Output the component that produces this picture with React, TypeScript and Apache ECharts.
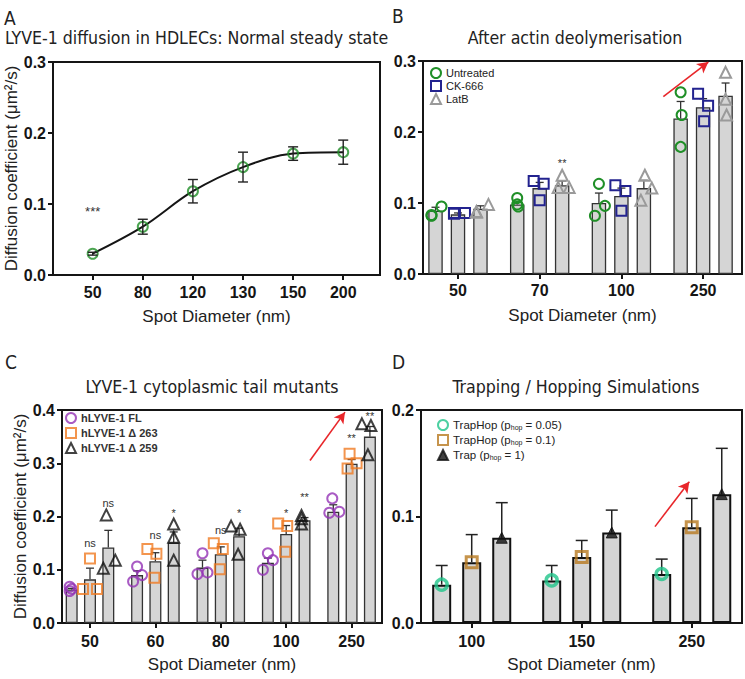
import React, { useEffect, useRef } from 'react';
import * as echarts from 'echarts';

// ---------------- DATA ----------------
// Panel A
const catsA = ['50', '80', '120', '130', '150', '200'];
const meanA = [0.030, 0.068, 0.118, 0.152, 0.171, 0.173];
const errA = [0.002, 0.0105, 0.0165, 0.021, 0.0095, 0.017];
const sigA = [{ g: 0, s: 1, y: 0.089, text: '***' }];

// Panel B
const catsB = ['50', '70', '100', '250'];
const namesB = ['Untreated', 'CK-666', 'LatB'];
const barsB = [
  [0.089, 0.098, 0.100, 0.219],
  [0.084, 0.121, 0.110, 0.235],
  [0.092, 0.125, 0.121, 0.251],
];
const errB = [
  [0.005, 0.003, 0.014, 0.024],
  [0.002, 0.008, 0.011, 0.012],
  [0.004, 0.006, 0.011, 0.018],
];
const ptsB = [
  [[0.082, 0.095, 0.083], [0.107, 0.098, 0.095], [0.127, 0.096, 0.082], [0.256, 0.224, 0.179]],
  [[0.086, 0.086, 0.085], [0.131, 0.127, 0.104], [0.125, 0.117, 0.089], [0.254, 0.237, 0.215]],
  [[0.087, 0.098, 0.088], [0.139, 0.122, 0.122], [0.139, 0.121, 0.104], [0.284, 0.246, 0.224]],
];
const sigB = [{ g: 1, s: 2, y: 0.157, text: '**' }];

// Panel C
const catsC = ['50', '60', '80', '100', '250'];
const namesC = ['hLYVE-1 FL', 'hLYVE-1 Δ 263', 'hLYVE-1 Δ 259'];
const barsC = [
  [0.063, 0.090, 0.104, 0.113, 0.209],
  [0.082, 0.116, 0.129, 0.167, 0.299],
  [0.142, 0.151, 0.163, 0.193, 0.350],
];
const errC = [
  [0.002, 0.008, 0.014, 0.009, 0.013],
  [0.021, 0.016, 0.014, 0.016, 0.008],
  [0.032, 0.020, 0.015, 0.005, 0.019],
];
const ptsC = [
  [[0.068, 0.060, 0.064], [0.106, 0.078, 0.090], [0.131, 0.092, 0.095], [0.131, 0.100, 0.118], [0.234, 0.207, 0.209]],
  [[0.121, 0.064, 0.064], [0.139, 0.130, 0.085], [0.150, 0.139, 0.101], [0.187, 0.182, 0.134], [0.318, 0.290, 0.300]],
  [[0.203, 0.103, 0.118], [0.186, 0.161, 0.118], [0.182, 0.176, 0.129], [0.202, 0.196, 0.186], [0.374, 0.371, 0.316]],
];
const sigC = [
  { g: 0, s: 1, y: 0.150, text: 'ns' },
  { g: 0, s: 2, y: 0.225, text: 'ns' },
  { g: 1, s: 1, y: 0.165, text: 'ns' },
  { g: 1, s: 2, y: 0.207, text: '*' },
  { g: 2, s: 1, y: 0.174, text: 'ns' },
  { g: 2, s: 2, y: 0.207, text: '*' },
  { g: 3, s: 1, y: 0.207, text: '*' },
  { g: 3, s: 2, y: 0.237, text: '**' },
  { g: 4, s: 1, y: 0.347, text: '**' },
  { g: 4, s: 2, y: 0.388, text: '**' },
];

// Panel D
const catsD = ['100', '150', '250'];
const namesD = ['TrapHop (phop = 0.05)', 'TrapHop (phop = 0.1)', 'Trap (phop = 1)'];
const barsD = [
  [0.036, 0.040, 0.046],
  [0.057, 0.062, 0.090],
  [0.080, 0.085, 0.121],
];
const errD = [
  [0.018, 0.014, 0.014],
  [0.026, 0.0155, 0.027],
  [0.033, 0.021, 0.043],
];

// ---------------- LAYOUT / STYLE ----------------
const FONT = 'Liberation Sans, Arial, sans-serif';
const TFONT = "'DejaVu Sans Condensed', 'DejaVu Sans', sans-serif";
const INK = '#151515';
const BAR_FILL = '#d5d5d5';

// jitter of replicate points, in px relative to bar centre
const jitB = [
  [[-4, 6, -4], [0, 0, 1], [0, 6, -4], [0, 1, 0]],
  [[-4, 7, -4], [-6, 4, 0], [-6, 4, 0], [-5, 5, 1]],
  [[-4, 8, -4], [0, -4, 7], [1, 8, -3], [0, 0, 1]],
];
const jitC = [
  [[-2, -2, 0], [0, -4, 5], [0, -5, 5], [0, -5, 5], [-1, -4, 6]],
  [[0, -7, 7], [-8, 1, -1], [-7, 2, -1], [-8, 1, -1], [-2, -4, 5]],
  [[-2, -5, 7], [0, 0, 0], [-8, 1, -1], [-3, -3, -3], [-8, 1, -2]],
];

const P = {
  A: { grid: { left: 53, top: 62, width: 327, height: 213 }, min: -0.792, max: 5.734, ymax: 0.3, off: 0 },
  B: { grid: { left: 423, top: 61, width: 319, height: 213 }, min: -0.428, max: 3.476, ymax: 0.3, sp: 81.7, off: 0.275, bw: 14.5 },
  C: { grid: { left: 62, top: 410, width: 320, height: 213 }, min: -0.428, max: 4.465, ymax: 0.4, sp: 65.4, off: 0.28, bw: 12 },
  D: { grid: { left: 421, top: 410, width: 321, height: 213 }, min: -0.461, max: 2.457, ymax: 0.2, sp: 110, off: 0.273, bw: 19 },
};

function xAxisCfg(gi: number, cats: string[], min: number, max: number, margin: number) {
  const idx = cats.map((_, i) => i);
  return {
    type: 'value', gridIndex: gi, min, max,
    axisLine: { show: true, onZero: false, lineStyle: { color: INK, width: 2 } },
    axisTick: { show: true, customValues: idx, length: 5, lineStyle: { color: INK, width: 2 } },
    axisLabel: {
      show: true, customValues: idx, margin,
      formatter: (v: number) => cats[Math.round(v)] ?? '',
      fontFamily: FONT, fontWeight: 'bold', fontSize: 16, color: INK,
    },
    splitLine: { show: false },
    name: 'Spot Diameter (nm)', nameLocation: 'middle', nameGap: 33,
    nameTextStyle: { fontFamily: FONT, fontSize: 17, color: '#222' },
  };
}

function yAxisCfg(gi: number, max: number, name?: string) {
  return {
    type: 'value', gridIndex: gi, min: 0, max, interval: 0.1,
    axisLine: { show: true, onZero: false, lineStyle: { color: INK, width: 2 } },
    axisTick: { show: true, length: 5, lineStyle: { color: INK, width: 2 } },
    axisLabel: {
      margin: 7, formatter: (v: number) => v.toFixed(1),
      fontFamily: FONT, fontWeight: 'bold', fontSize: 16, color: INK,
    },
    splitLine: { show: false },
    name: name ?? '', nameLocation: 'middle', nameGap: 32,
    nameTextStyle: { fontFamily: FONT, fontSize: 17, color: '#222' },
  };
}

function errSeries(gi: number, data: number[][], cap: number, both: boolean, color: string, width: number, z: number) {
  return {
    type: 'custom', xAxisIndex: gi, yAxisIndex: gi, z, silent: true,
    renderItem: (_p: any, api: any) => {
      const x = api.value(0), y = api.value(1), e = api.value(2);
      const p0 = api.coord([x, both ? y - e : y]);
      const p1 = api.coord([x, y + e]);
      const st = { stroke: color, lineWidth: width };
      const ch: any[] = [
        { type: 'line', shape: { x1: p0[0], y1: p0[1], x2: p1[0], y2: p1[1] }, style: st },
        { type: 'line', shape: { x1: p1[0] - cap, y1: p1[1], x2: p1[0] + cap, y2: p1[1] }, style: st },
      ];
      if (both) ch.push({ type: 'line', shape: { x1: p0[0] - cap, y1: p0[1], x2: p0[0] + cap, y2: p0[1] }, style: st });
      return { type: 'group', children: ch };
    },
    data,
  };
}

// significance marks drawn as text at data coordinates
function sigSeries(gi: number, off: number, sig: { g: number; s: number; y: number; text: string }[], fontSize: number, extra: any = {}) {
  return {
    type: 'custom', xAxisIndex: gi, yAxisIndex: gi, z: 6, silent: true,
    renderItem: (params: any, api: any) => {
      const p = api.coord([api.value(0), api.value(1)]);
      const s = sig[params.dataIndex];
      return {
        type: 'text', x: p[0], y: p[1],
        style: { text: s ? s.text : '', fill: '#333', font: `${fontSize}px ${FONT}`, align: 'center', verticalAlign: 'middle' },
      };
    },
    data: sig.map(s => [s.g + (s.s - 1) * off, s.y]),
    ...extra,
  };
}

function arrow(x1: number, y1: number, x2: number, y2: number) {
  return {
    silent: true, symbol: ['none', 'arrow'], symbolSize: [9, 11], animation: false,
    lineStyle: { color: '#e8262a', width: 1.6, type: 'solid' }, label: { show: false },
    data: [[{ coord: [x1, y1] }, { coord: [x2, y2] }]],
  };
}

function buildOption() {
  const series: any[] = [];

  // ---- A ----
  series.push({
    type: 'line', xAxisIndex: 0, yAxisIndex: 0, z: 2, smooth: 0.35, symbol: 'none',
    lineStyle: { color: INK, width: 2 },
    data: meanA.map((v, i) => [i, v]),
  });
  series.push({
    type: 'scatter', xAxisIndex: 0, yAxisIndex: 0, z: 3, symbol: 'circle', symbolSize: 10,
    itemStyle: { color: 'rgba(255,255,255,0)', borderColor: '#1f8f27', borderWidth: 2 },
    data: meanA.map((v, i) => [i, v]),
  });
  series.push(errSeries(0, meanA.map((v, i) => [i, v, errA[i]]), 5, true, '#222', 1.4, 5));
  series.push(sigSeries(0, 0, sigA, 13));

  // grouped panels
  const grouped = (gi: number, key: 'B' | 'C' | 'D', bars: number[][], errs: number[][]) => {
    const cfg: any = P[key];
    const barData: number[][] = [];
    const eData: number[][] = [];
    bars.forEach((row, s) => row.forEach((v, g) => {
      const x = g + (s - 1) * cfg.off;
      barData.push([x, v]);
      eData.push([x, v, errs[s][g]]);
    }));
    series.push({
      type: 'bar', xAxisIndex: gi, yAxisIndex: gi, z: 2, barWidth: cfg.bw,
      itemStyle: { color: BAR_FILL, borderColor: key === 'D' ? '#111' : '#333', borderWidth: key === 'D' ? 2 : 1.3 },
      data: barData,
    });
    return eData;
  };

  // ---- B ----
  const eB = grouped(1, 'B', barsB, errB);
  series.push(errSeries(1, eB, 4, false, '#333', 1.3, 3));
  const stylesB = [
    { symbol: 'circle', size: 10, c: '#1f8f27' },
    { symbol: 'rect', size: 10, c: '#23238f' },
    { symbol: 'triangle', size: 11, c: '#9a9a9a' },
  ];
  namesB.forEach((n, s) => {
    const d: number[][] = [];
    ptsB[s].forEach((arr, g) => arr.forEach((v, k) => d.push([g + (s - 1) * P.B.off + jitB[s][g][k] / P.B.sp, v])));
    series.push({
      name: n, type: 'scatter', xAxisIndex: 1, yAxisIndex: 1, z: 4, symbol: stylesB[s].symbol, symbolSize: stylesB[s].size,
      itemStyle: { color: 'rgba(255,255,255,0)', borderColor: stylesB[s].c, borderWidth: 2, opacity: 1 },
      data: d,
    });
  });
  series.push(sigSeries(1, P.B.off, sigB, 11));
  series.push({ type: 'scatter', xAxisIndex: 1, yAxisIndex: 1, data: [], markLine: arrow(2.513, 0.2497, 3.064, 0.2985) });

  // ---- C ----
  const eC = grouped(2, 'C', barsC, errC);
  series.push(errSeries(2, eC, 4, false, '#333', 1.3, 3));
  const stylesC = [
    { symbol: 'circle', size: 10, c: '#9332b5' },
    { symbol: 'rect', size: 10, c: '#f07a22' },
    { symbol: 'triangle', size: 11, c: '#111111' },
  ];
  namesC.forEach((n, s) => {
    const d: number[][] = [];
    ptsC[s].forEach((arr, g) => arr.forEach((v, k) => d.push([g + (s - 1) * P.C.off + jitC[s][g][k] / P.C.sp, v])));
    series.push({
      name: n, type: 'scatter', xAxisIndex: 2, yAxisIndex: 2, z: 4, symbol: stylesC[s].symbol, symbolSize: stylesC[s].size,
      itemStyle: { color: 'rgba(255,255,255,0)', borderColor: stylesC[s].c, borderWidth: 2 },
      data: d,
    });
  });
  series.push(sigSeries(2, P.C.off, sigC, 11));
  series.push({ type: 'scatter', xAxisIndex: 2, yAxisIndex: 2, data: [], markLine: arrow(3.364, 0.305, 3.899, 0.396) });

  // ---- D ----
  const eD = grouped(3, 'D', barsD, errD);
  series.push(errSeries(3, eD, 6, false, '#222', 1.5, 3));
  const stylesD = [
    { symbol: 'circle', size: 11, fill: 'rgba(255,255,255,0)', c: '#1fc48a', bw: 3.5 },
    { symbol: 'rect', size: 11, fill: 'rgba(255,255,255,0)', c: '#b8791f', bw: 3 },
    { symbol: 'triangle', size: 11, fill: '#111111', c: '#111111', bw: 1 },
  ];
  namesD.forEach((n, s) => {
    series.push({
      name: n, type: 'scatter', xAxisIndex: 3, yAxisIndex: 3, z: 4, symbol: stylesD[s].symbol, symbolSize: stylesD[s].size,
      itemStyle: { color: stylesD[s].fill, borderColor: stylesD[s].c, borderWidth: stylesD[s].bw },
      data: barsD[s].map((v, g) => [g + (s - 1) * P.D.off, v]),
    });
  });
  series.push({ type: 'scatter', xAxisIndex: 3, yAxisIndex: 3, data: [], markLine: arrow(1.666, 0.0905, 1.978, 0.1327) });

  const legendBase = {
    orient: 'vertical', itemWidth: 10, itemHeight: 10, selectedMode: false,
    inactiveColor: '#ccc',
  };
  const subMap: Record<string, string> = {
    [namesD[0]]: '{a|TrapHop (p}{s|hop}{a| = 0.05)}',
    [namesD[1]]: '{a|TrapHop (p}{s|hop}{a| = 0.1)}',
    [namesD[2]]: '{a|Trap (p}{s|hop}{a| = 1)}',
  };

  return {
    animation: false,
    backgroundColor: '#ffffff',
    grid: [P.A.grid, P.B.grid, P.C.grid, P.D.grid].map(g => ({ ...g, show: true, borderColor: INK, borderWidth: 2, backgroundColor: 'transparent', containLabel: false })),
    xAxis: [
      xAxisCfg(0, catsA, P.A.min, P.A.max, 9),
      xAxisCfg(1, catsB, P.B.min, P.B.max, 8),
      xAxisCfg(2, catsC, P.C.min, P.C.max, 10),
      xAxisCfg(3, catsD, P.D.min, P.D.max, 10),
    ],
    yAxis: [
      yAxisCfg(0, P.A.ymax, 'Diffusion coefficient (μm²/s)'),
      yAxisCfg(1, P.B.ymax),
      yAxisCfg(2, P.C.ymax, 'Diffusion coefficient (μm²/s)'),
      yAxisCfg(3, P.D.ymax),
    ],
    legend: [
      { ...legendBase, data: namesB, left: 425, top: 62, itemGap: 1, textStyle: { fontFamily: FONT, fontSize: 11, color: '#222' } },
      { ...legendBase, data: namesC, left: 60, top: 407, itemGap: 3, textStyle: { fontFamily: FONT, fontSize: 11, fontWeight: 'bold', color: '#333' } },
      {
        ...legendBase, data: namesD, left: 432, top: 414, itemGap: 3,
        formatter: (n: string) => subMap[n] ?? n,
        textStyle: {
          fontFamily: FONT, fontSize: 11.5, color: '#222',
          rich: { a: { fontFamily: FONT, fontSize: 11.5, color: '#222' }, s: { fontFamily: FONT, fontSize: 7, color: '#222', padding: [5, 0, 0, 0] } },
        },
      },
    ],
    graphic: [
      { type: 'text', left: 4, top: 8, style: { text: 'A', font: `19px ${TFONT}`, fill: '#222' } },
      { type: 'text', left: 392, top: 6, style: { text: 'B', font: `19px ${TFONT}`, fill: '#222' } },
      { type: 'text', left: 5, top: 352, style: { text: 'C', font: `19px ${TFONT}`, fill: '#222' } },
      { type: 'text', left: 392, top: 352, style: { text: 'D', font: `19px ${TFONT}`, fill: '#222' } },
      { type: 'text', x: 5, y: 38, style: { text: 'LYVE-1 diffusion in HDLECs: Normal steady state', font: `17.6px ${TFONT}`, fill: '#222', verticalAlign: 'middle' } },
      { type: 'text', x: 575, y: 38, style: { text: 'After actin deolymerisation', font: `17.6px ${TFONT}`, fill: '#222', align: 'center', verticalAlign: 'middle' } },
      { type: 'text', x: 212, y: 387, style: { text: 'LYVE-1 cytoplasmic tail mutants', font: `17.6px ${TFONT}`, fill: '#222', align: 'center', verticalAlign: 'middle' } },
      { type: 'text', x: 576, y: 387, style: { text: 'Trapping / Hopping Simulations', font: `17.6px ${TFONT}`, fill: '#222', align: 'center', verticalAlign: 'middle' } },
    ],
    series,
  };
}

export default function App() {
  const ref = useRef<HTMLDivElement>(null);
  useEffect(() => {
    document.body.style.margin = '0';
    if (!ref.current) return;
    const chart = echarts.init(ref.current, undefined, { renderer: 'svg' });
    chart.setOption(buildOption() as any);
    return () => chart.dispose();
  }, []);
  return <div ref={ref} style={{ width: 745, height: 679 }} />;
}
